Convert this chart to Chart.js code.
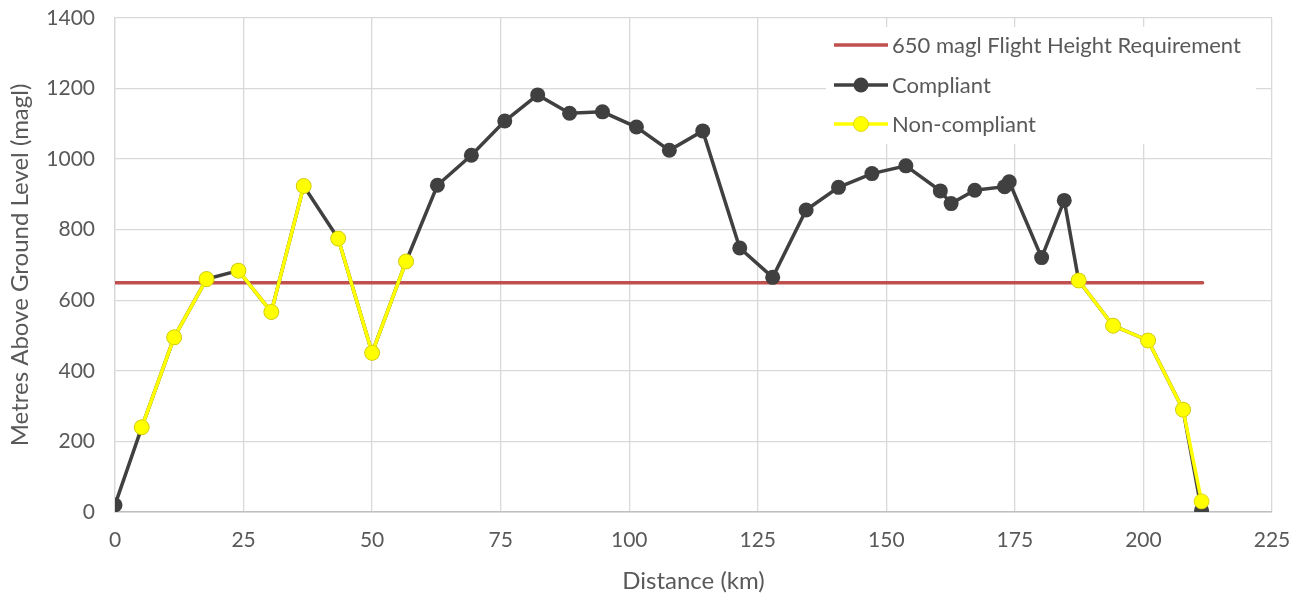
<!DOCTYPE html>
<html>
<head>
<meta charset="utf-8">
<script src="https://cdn.jsdelivr.net/npm/chart.js@4/dist/chart.umd.min.js"></script>
<style>
  html, body { margin: 0; padding: 0; background: #ffffff; }
  #wrap { width: 1298px; height: 596px; position: relative; }
</style>
</head>
<body>
<div id="wrap"><canvas id="profile"></canvas></div>
<script>
// Terrain clearance along the flight line: distance (km) vs metres above ground level
const distanceKm = [0, 5.2, 11.5, 17.8, 24.0, 30.4, 36.7, 43.4, 50.0, 56.6, 62.7, 69.3, 75.8, 82.2, 88.4, 94.8,
                    101.4, 107.8, 114.3, 121.5, 127.9, 134.4, 140.7, 147.2, 153.8, 160.5, 162.6, 167.2, 173.0,
                    173.9, 180.2, 184.6, 187.4, 194.1, 200.9, 207.7, 211.3];
const compliantMagl = [20, 240, 495, 660, 684, 567, 924, 775, 451, 710, 926, 1011, 1108, 1182, 1130, 1134,
                       1091, 1025, 1080, 748, 665, 856, 920, 959, 981, 910, 874, 912, 922,
                       936, 721, 883, 656, 528, 486, 290, 5];

// Non-compliant stretches, one array per continuous run
const nonCompliantKm = [
  [5.2, 11.5, 17.8],
  [24.0, 30.4, 36.7],
  [43.4, 50.0, 56.6],
  [187.4, 194.1, 200.9, 207.7, 211.3]
];
const nonCompliantMagl = [
  [240, 495, 660],
  [684, 567, 924],
  [775, 451, 710],
  [656, 528, 486, 290, 30]
];

// Flight height requirement line
const requirementKm = [0, 211.5];
const requirementMagl = [650, 650];

// Axis ranges and tick spacing
const xRange = [0, 225];
const xStep = 25;
const yRange = [0, 1400];
const yStep = 200;

const seriesLabels = ['650 magl Flight Height Requirement', 'Compliant', 'Non-compliant'];

const toPoints = (xs, ys) => xs.map((x, i) => ({ x: x, y: ys[i] }));

const RED = '#C0504D';
const DARK = '#404040';
const YELLOW = '#FFFF00';
const YELLOW_EDGE = '#D8D000';
const TEXT = '#595959';
const GRID = '#D9D9D9';

const datasets = [
  {
    label: seriesLabels[0],
    data: toPoints(requirementKm, requirementMagl),
    borderColor: RED,
    backgroundColor: RED,
    borderWidth: 3.5,
    borderCapStyle: 'round',
    pointRadius: 0,
    order: 3
  },
  {
    label: seriesLabels[1],
    data: toPoints(distanceKm, compliantMagl),
    borderColor: DARK,
    backgroundColor: DARK,
    borderWidth: 3.5,
    pointRadius: 7.5,
    pointBackgroundColor: DARK,
    pointBorderColor: DARK,
    pointBorderWidth: 0,
    order: 2
  }
];

nonCompliantKm.forEach((kms, r) => {
  datasets.push({
    label: seriesLabels[2],
    hideInLegend: r > 0,
    data: toPoints(kms, nonCompliantMagl[r]),
    borderColor: YELLOW,
    backgroundColor: YELLOW,
    borderWidth: 3.5,
    pointRadius: 7.5,
    pointBackgroundColor: YELLOW,
    pointBorderColor: YELLOW_EDGE,
    pointBorderWidth: 0.8,
    order: 1
  });
});

// Legend drawn inside the plot area, top right, on a white box
const insetLegend = {
  id: 'insetLegend',
  afterDatasetsDraw(chart) {
    const ctx = chart.ctx;
    const items = chart.data.datasets.filter(ds => !ds.hideInLegend);
    const box = { x: 826, y: 27, w: 430, h: 117 };
    const rowY = [45, 85, 124];
    const symX0 = 834, symX1 = 888, textX = 892;
    ctx.save();
    ctx.fillStyle = '#ffffff';
    ctx.fillRect(box.x, box.y, box.w, box.h);
    items.forEach((ds, i) => {
      const y = rowY[i];
      ctx.strokeStyle = ds.borderColor;
      ctx.lineWidth = ds.borderWidth;
      ctx.lineCap = 'butt';
      ctx.beginPath();
      ctx.moveTo(symX0, y);
      ctx.lineTo(symX1, y);
      ctx.stroke();
      if (ds.pointRadius > 0) {
        ctx.beginPath();
        ctx.arc((symX0 + symX1) / 2, y, ds.pointRadius, 0, Math.PI * 2);
        ctx.fillStyle = ds.pointBackgroundColor;
        ctx.fill();
        if (ds.pointBorderWidth > 0) {
          ctx.lineWidth = ds.pointBorderWidth;
          ctx.strokeStyle = ds.pointBorderColor;
          ctx.stroke();
        }
      }
      ctx.fillStyle = TEXT;
      ctx.font = '22px Lato';
      ctx.textBaseline = 'middle';
      ctx.textAlign = 'left';
      ctx.fillText(ds.label, textX, y + 1);
    });
    ctx.restore();
  }
};

Chart.defaults.font.family = 'Lato';
Chart.defaults.color = TEXT;

new Chart(document.getElementById('profile'), {
  type: 'line',
  data: { datasets: datasets },
  plugins: [insetLegend],
  options: {
    responsive: true,
    maintainAspectRatio: false,
    animation: false,
    layout: { padding: { top: 18, right: 26, left: 0, bottom: 0 } },
    plugins: {
      legend: { display: false },
      tooltip: { enabled: false }
    },
    elements: { line: { tension: 0 } },
    scales: {
      x: {
        type: 'linear',
        min: xRange[0],
        max: xRange[1],
        ticks: { stepSize: xStep, padding: 0, font: { size: 21 }, color: TEXT, maxRotation: 0, callback: v => v },
        grid: { color: GRID, lineWidth: 1.3, drawTicks: true, tickLength: 16, tickColor: 'rgba(0,0,0,0)' },
        border: { color: '#BFBFBF', width: 1.5 },
        title: { display: true, text: 'Distance (km)', font: { size: 24 }, color: TEXT, padding: { top: 4, bottom: 0 } },
        afterFit(scale) { scale.height = 84; }
      },
      y: {
        type: 'linear',
        min: yRange[0],
        max: yRange[1],
        ticks: { stepSize: yStep, padding: 0, font: { size: 21 }, color: TEXT, callback: v => v },
        grid: { color: GRID, lineWidth: 1.3, drawTicks: true, tickLength: 20, tickColor: 'rgba(0,0,0,0)' },
        border: { color: GRID, width: 1.3 },
        title: { display: true, text: 'Metres Above Ground Level (magl)', font: { size: 24 }, color: TEXT, padding: { top: 6, bottom: 0 } },
        afterFit(scale) { scale.width = 115; }
      }
    }
  }
});
</script>
</body>
</html>
